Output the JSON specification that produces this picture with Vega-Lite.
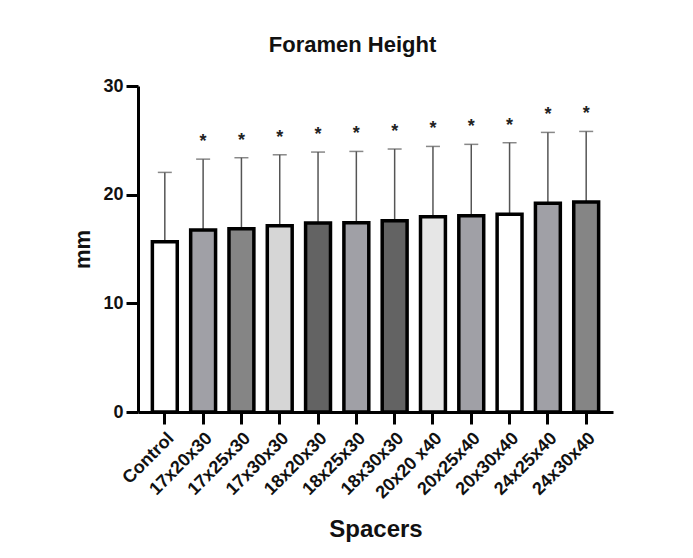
{
  "$schema": "https://vega.github.io/schema/vega-lite/v6.json",
  "autosize": "none",
  "width": 475,
  "height": 326,
  "padding": {"left": 138, "top": 86, "right": 80, "bottom": 146},
  "background": "white",
  "title": {"text": "Foramen Height", "font": "Liberation Sans", "fontSize": 22, "fontWeight": "bold", "color": "#111", "anchor": "middle", "dx": -23, "offset": 20},
  "data": {"values": [
    {"spacer": "Control", "mean": 15.67, "upper": 22.05, "sig": ""},
    {"spacer": "17x20x30", "mean": 16.74, "upper": 23.27, "sig": "*"},
    {"spacer": "17x25x30", "mean": 16.86, "upper": 23.4, "sig": "*"},
    {"spacer": "17x30x30", "mean": 17.14, "upper": 23.67, "sig": "*"},
    {"spacer": "18x20x30", "mean": 17.39, "upper": 23.92, "sig": "*"},
    {"spacer": "18x25x30", "mean": 17.42, "upper": 23.98, "sig": "*"},
    {"spacer": "18x30x30", "mean": 17.6, "upper": 24.2, "sig": "*"},
    {"spacer": "20x20 x40", "mean": 17.97, "upper": 24.44, "sig": "*"},
    {"spacer": "20x25x40", "mean": 18.06, "upper": 24.63, "sig": "*"},
    {"spacer": "20x30x40", "mean": 18.2, "upper": 24.78, "sig": "*"},
    {"spacer": "24x25x40", "mean": 19.2, "upper": 25.73, "sig": "*"},
    {"spacer": "24x30x40", "mean": 19.32, "upper": 25.82, "sig": "*"}
  ]},
  "encoding": {
    "x": {"field": "spacer", "type": "nominal", "sort": null,
      "scale": {"paddingInner": 0.35, "paddingOuter": 0.375},
      "axis": {"title": "Spacers", "titleFont": "Liberation Sans", "titleFontSize": 24, "titleFontWeight": "bold", "titleColor": "#111", "titlePadding": 16,
        "labelAngle": -45, "labelFont": "Liberation Sans", "labelFontSize": 18, "labelFontWeight": "bold", "labelColor": "#111", "labelPadding": 5,
        "domainColor": "black", "domainWidth": 3, "tickColor": "black", "tickWidth": 3, "tickSize": 12, "grid": false}}
  },
  "layer": [
    {"mark": {"type": "rule", "color": "#555555", "strokeWidth": 1.5},
      "encoding": {"y": {"field": "mean", "type": "quantitative"}, "y2": {"field": "upper"}}},
    {"mark": {"type": "tick", "color": "#555555", "thickness": 1.5, "size": 14},
      "encoding": {"y": {"field": "upper", "type": "quantitative"}}},
    {"mark": {"type": "bar", "stroke": "black", "strokeWidth": 3.5},
      "encoding": {
        "y": {"field": "mean", "type": "quantitative", "scale": {"domain": [0, 30], "nice": false},
          "axis": {"title": "mm", "titleFont": "Liberation Sans", "titleFontSize": 22, "titleFontWeight": "bold", "titleColor": "#111", "titlePadding": 8,
            "values": [0, 10, 20, 30], "labelFont": "Liberation Sans", "labelFontSize": 18, "labelFontWeight": "bold", "labelColor": "#111", "labelPadding": 3,
            "domainColor": "black", "domainWidth": 3, "tickColor": "black", "tickWidth": 3, "tickSize": 12, "grid": false}},
        "color": {"field": "spacer", "type": "nominal", "legend": null,
          "scale": {"domain": ["Control", "17x20x30", "17x25x30", "17x30x30", "18x20x30", "18x25x30", "18x30x30", "20x20 x40", "20x25x40", "20x30x40", "24x25x40", "24x30x40"],
            "range": ["#ffffff", "#a0a0a6", "#858585", "#d6d6d6", "#636363", "#a0a0a6", "#636363", "#e6e6e6", "#a0a0a6", "#ffffff", "#a0a0a6", "#858585"]}}
      }},
    {"mark": {"type": "text", "font": "Liberation Sans", "fontSize": 18, "fontWeight": "bold", "color": "#222", "baseline": "middle", "dy": -17},
      "encoding": {"y": {"field": "upper", "type": "quantitative"}, "text": {"field": "sig"}}}
  ],
  "config": {"view": {"stroke": null}}
}
